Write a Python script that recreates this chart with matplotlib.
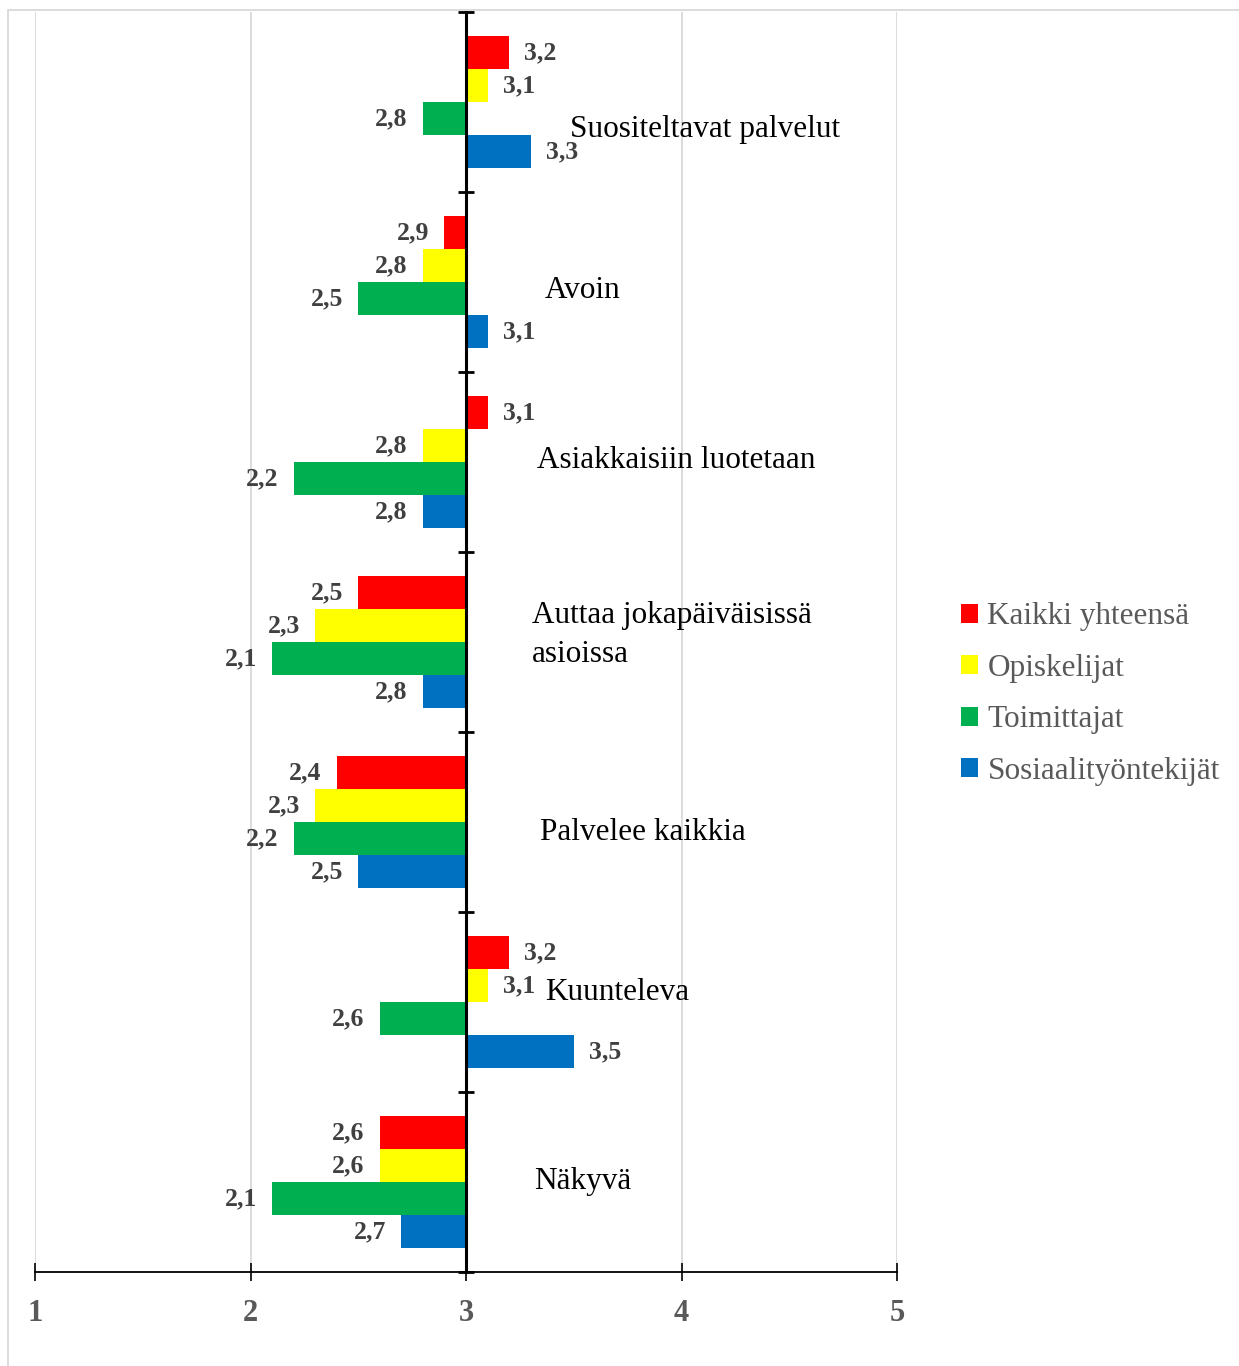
import matplotlib
matplotlib.use('Agg')
from matplotlib import pyplot as plt
from matplotlib.patches import Patch, Rectangle
import numpy as np

# Survey answers per statement, scale 1-5, bars drawn from the midpoint 3
categories = ['Suositeltavat palvelut', 'Avoin', 'Asiakkaisiin luotetaan',
              'Auttaa jokapäiväisissä\nasioissa', 'Palvelee kaikkia',
              'Kuunteleva', 'Näkyvä']
series_names = ['Kaikki yhteensä', 'Opiskelijat', 'Toimittajat',
                'Sosiaalityöntekijät']
kaikki = [3.2, 2.9, 3.1, 2.5, 2.4, 3.2, 2.6]
opiskelijat = [3.1, 2.8, 2.8, 2.3, 2.3, 3.1, 2.6]
toimittajat = [2.8, 2.5, 2.2, 2.1, 2.2, 2.6, 2.1]
sosiaali = [3.3, 3.1, 2.8, 2.8, 2.5, 3.5, 2.7]
x_ticks = [1, 2, 3, 4, 5]

colors = ['#FF0000', '#FFFF00', '#00B050', '#0070C0']
midpoint = 3
serif = ['Liberation Serif', 'DejaVu Serif']

W, H = 1239, 1366
fig = plt.figure(figsize=(W / 100, H / 100), dpi=100)
ax = fig.add_axes([35 / W, 1 - 1272 / H, (897 - 35) / W, (1272 - 12) / H])

y = np.arange(len(categories))
h = 0.183
all_series = [kaikki, opiskelijat, toimittajat, sosiaali]
for i, (vals, col) in enumerate(zip(all_series, colors)):
    ypos = y + (i - 1.5) * h
    widths = [v - midpoint for v in vals]
    ax.barh(ypos, widths, left=midpoint, height=h, color=col, zorder=2)
    for yy, v in zip(ypos, vals):
        lbl = f'{v:.1f}'.replace('.', ',')
        if v >= midpoint:
            ax.annotate(lbl, (v, yy), xytext=(11, 0), textcoords='offset points',
                        ha='left', va='center', fontsize=18.5, fontweight='bold',
                        color='#404040', family=serif)
        else:
            ax.annotate(lbl, (v, yy), xytext=(-11, 0), textcoords='offset points',
                        ha='right', va='center', fontsize=18.5, fontweight='bold',
                        color='#404040', family=serif)

# statement names sit to the right of the axis line
label_place = [(3.483, 0.15), (3.367, 0.05), (3.33, -0.011), (3.306, -0.039),
               (3.343, 0.061), (3.367, -0.05), (3.316, 0.0)]
for k, (name, (lx, dy)) in enumerate(zip(categories, label_place)):
    ax.text(lx, k + dy, name, ha='left', va='center', fontsize=22.5,
            color='black', family=serif, linespacing=1.45)

ax.set_xlim(1, 5)
ax.set_ylim(len(categories) - 0.5, -0.5)
ax.set_xticks(x_ticks)
ax.set_xticklabels([str(t) for t in x_ticks], fontsize=22, fontweight='bold',
                   color='#595959', family=serif)
ax.tick_params(axis='x', direction='inout', length=13, width=1.2, pad=13)
ax.set_yticks(np.arange(-0.5, len(categories), 1.0))
ax.set_yticklabels([])
ax.tick_params(axis='y', direction='inout', length=11, width=2)

ax.spines['left'].set_position(('data', midpoint))
ax.spines['left'].set_linewidth(2.2)
ax.spines['left'].set_zorder(3)
ax.spines['bottom'].set_linewidth(1.3)
ax.spines['top'].set_visible(False)
ax.spines['right'].set_visible(False)

for gx in [1, 2, 4, 5]:
    ax.axvline(gx, color='#D9D9D9', lw=1.3, zorder=0)

handles = [Patch(facecolor=c, edgecolor='none') for c in colors]
fig.legend(handles, series_names, loc='center left',
           bbox_to_anchor=(939 / W, 1 - 694 / H), frameon=False,
           prop={'family': serif, 'size': 22.5}, labelcolor='#595959',
           handlelength=0.55, handleheight=0.55, handletextpad=0.3,
           labelspacing=0.72, borderpad=0.2)

fig.add_artist(Rectangle((8 / W, -0.01), 1.0, 1 - 10 / H + 0.01,
                         transform=fig.transFigure, fill=False,
                         ec='#D9D9D9', lw=1.3))

fig.savefig('out.png', dpi=100)
